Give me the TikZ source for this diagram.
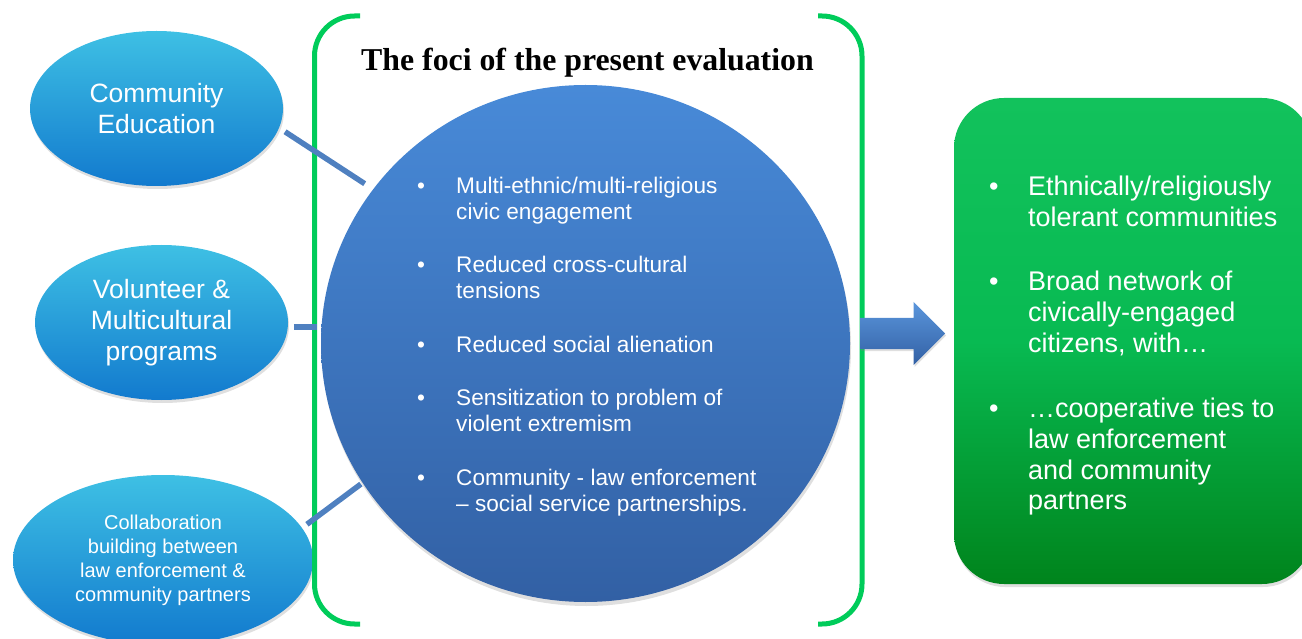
\documentclass[tikz,border=0pt]{standalone}
\usepackage{fontspec}
\setmainfont{Liberation Sans}
\newfontfamily\titlefont{Liberation Serif}
\usepackage{xcolor}
\usetikzlibrary{shapes.geometric, shapes.arrows, shadows}

\definecolor{SkyTop}{RGB}{62,192,228}
\definecolor{SkyBottom}{RGB}{18,122,206}
\definecolor{FociTop}{RGB}{72,138,216}
\definecolor{FociBottom}{RGB}{50,96,164}
\definecolor{BoxTop}{RGB}{18,194,92}
\definecolor{BoxMid}{RGB}{8,186,82}
\definecolor{BoxBottom}{RGB}{0,132,28}
\definecolor{BracketGreen}{RGB}{0,204,90}
\definecolor{LinkBlue}{RGB}{79,128,192}

\begin{document}
\begin{tikzpicture}[x=1pt, y=-1pt,
        program/.style={ellipse, inner sep=0pt, top color=SkyTop, bottom color=SkyBottom, text=white, align=center,
            drop shadow={opacity=0.25, shadow xshift=1pt, shadow yshift=-3pt}},
        bracket/.style={BracketGreen, line width=5pt, rounded corners=40pt},
        link/.style={LinkBlue, line width=5.5pt},
        bullets/.style={anchor=west, text=white, inner sep=0pt}]
        \clip (0,0) rectangle (1302,639);

        \node[program, minimum width=253pt, minimum height=155pt, font=\fontsize{26.5}{31}\selectfont] (edu) at (156.5,108.5) {Community\\Education};
        \node[program, minimum width=253pt, minimum height=155pt, font=\fontsize{26.5}{31}\selectfont] (prog) at (161.5,322.5) {Volunteer \&\\Multicultural\\programs};
        \node[program, minimum width=300pt, minimum height=170pt, font=\fontsize{20}{24}\selectfont] (collab) at (163,560) {Collaboration\\building between\\law enforcement \&\\community partners};

        \draw[bracket] (360,16) -- (314.5,16) -- (314.5,624) -- (360,624);
        \draw[bracket] (818,16) -- (862,16) -- (862,624) -- (818,624);

        \node[font=\titlefont\fontsize{31.8}{36}\selectfont\bfseries, anchor=base] (title) at (587.5,71) {The foci of the present evaluation};

        \node[ellipse, minimum width=529pt, minimum height=517pt, top color=FociTop, bottom color=FociBottom,
            drop shadow={opacity=0.25, shadow xshift=1pt, shadow yshift=-4pt}] (foci) at (585.5,343.5) {};
        \node[bullets, font=\fontsize{22.6}{26}\selectfont] (focilist) at (417,347) {%
            \begin{tabular}{@{}p{39pt}@{}l@{}}
                \textbullet & Multi-ethnic/multi-religious\\
                & civic engagement\\[27.5pt]
                \textbullet & Reduced cross-cultural\\
                & tensions\\[27.5pt]
                \textbullet & Reduced social alienation\\[27.5pt]
                \textbullet & Sensitization to problem of\\
                & violent extremism\\[27.5pt]
                \textbullet & Community - law enforcement\\
                & – social service partnerships.
            \end{tabular}};

        \draw[link, shorten <=7pt, shorten >=10pt] (edu.-9) -- (foci.144);
        \draw[link, shorten <=6pt, shorten >=4pt] (prog.-2) -- (prog.-2 -| foci.west);
        \draw[link, shorten <=6pt, shorten >=2pt] (collab.13) -- (foci.212);

        \node[single arrow, anchor=tail, inner sep=0pt, text height=31pt, text depth=0pt, minimum height=85pt, single arrow head extend=16pt,
            top color=FociTop!90!white, bottom color=FociBottom,
            drop shadow={opacity=0.25, shadow xshift=1pt, shadow yshift=-2pt}] (arr) at (860,333.5) {};

        \node[rectangle, rounded corners=50pt, minimum width=358pt, minimum height=486pt,
            top color=BoxTop, bottom color=BoxBottom, middle color=BoxMid,
            drop shadow={opacity=0.25, shadow xshift=1pt, shadow yshift=-3pt}] (outcome) at (1133,341) {};
        \node[bullets, font=\fontsize{27}{30.7}\selectfont] (outlist) at (989,346.5) {%
            \begin{tabular}{@{}p{39pt}@{}l@{}}
                \textbullet & Ethnically/religiously\\
                & tolerant communities\\[34pt]
                \textbullet & Broad network of\\
                & civically-engaged\\
                & citizens, with…\\[35pt]
                \textbullet & …cooperative ties to\\
                & law enforcement\\
                & and community\\
                & partners
            \end{tabular}};

\end{tikzpicture}
\end{document}
